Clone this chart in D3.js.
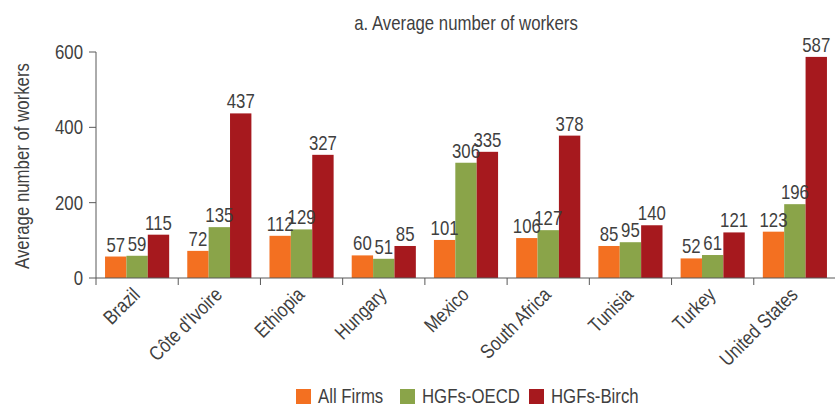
<!DOCTYPE html>
<html>
<head>
<meta charset="utf-8">
<script src="https://cdn.jsdelivr.net/npm/d3@7"></script>
<style>
  body { margin: 0; background: #fff; }
  text { font-family: "Liberation Sans", Arial, sans-serif; fill: #3f3f3f; font-size: 20px; }
</style>
</head>
<body>
<svg id="chart" width="835" height="405"></svg>
<script>
// data
var countries = ["Brazil", "Côte d'Ivoire", "Ethiopia", "Hungary", "Mexico", "South Africa", "Tunisia", "Turkey", "United States"];
var seriesNames = ["All Firms", "HGFs-OECD", "HGFs-Birch"];
var allFirms = [57, 72, 112, 60, 101, 106, 85, 52, 123];
var hgfOecd = [59, 135, 129, 51, 306, 127, 95, 61, 196];
var hgfBirch = [115, 437, 327, 85, 335, 378, 140, 121, 587];
var yTicks = [0, 200, 400, 600];
var colors = ["#f37021", "#8aa449", "#a6191e"];

var svg = d3.select("#chart");
var plotL = 96, plotR = 836, plotT = 52, plotB = 278;
var sx = 0.84; // squeeze text to look condensed

var x0 = d3.scaleBand().domain(countries).range([plotL, plotR]).paddingInner(0.22).paddingOuter(0.11);
var x1 = d3.scaleBand().domain(seriesNames).range([0, x0.bandwidth()]);
var y = d3.scaleLinear().domain([0, 600]).range([plotB, plotT]);

var rows = countries.map(function(c, i) {
    return {name: c, vals: [allFirms[i], hgfOecd[i], hgfBirch[i]]};
});

function put(x, yy, rot) {
    return "translate(" + x + "," + yy + ")" + (rot ? " rotate(" + rot + ")" : "") + " scale(" + sx + ",1)";
}

// title
svg.append("text").attr("transform", put(466, 30)).attr("text-anchor", "middle")
    .text("a. Average number of workers");

// y axis label
svg.append("text").attr("transform", put(29, 166, -90))
    .attr("text-anchor", "middle").text("Average number of workers");

// bars
var g = svg.selectAll("g.grp").data(rows).enter().append("g")
    .attr("class", "grp")
    .attr("transform", function(d) { return "translate(" + x0(d.name) + ",0)"; });

g.selectAll("rect").data(function(d) { return d.vals; }).enter().append("rect")
    .attr("x", function(d, i) { return x1(seriesNames[i]); })
    .attr("y", function(d) { return y(d); })
    .attr("width", x1.bandwidth())
    .attr("height", function(d) { return y(0) - y(d); })
    .attr("fill", function(d, i) { return colors[i]; });

g.selectAll("text.val").data(function(d) { return d.vals; }).enter().append("text")
    .attr("class", "val")
    .attr("transform", function(d, i) { return put(x1(seriesNames[i]) + x1.bandwidth() / 2, y(d) - 5); })
    .attr("text-anchor", "middle")
    .text(function(d) { return d; });

// y axis
svg.append("line").attr("x1", plotL).attr("x2", plotL).attr("y1", plotT).attr("y2", plotB)
    .attr("stroke", "#595959");
svg.selectAll("line.yt").data(yTicks).enter().append("line")
    .attr("class", "yt")
    .attr("x1", plotL - 7).attr("x2", plotL)
    .attr("y1", function(d) { return y(d); }).attr("y2", function(d) { return y(d); })
    .attr("stroke", "#595959");
svg.selectAll("text.ytl").data(yTicks).enter().append("text")
    .attr("class", "ytl")
    .attr("transform", function(d) { return put(plotL - 13, y(d) + 7); })
    .attr("text-anchor", "end")
    .text(function(d) { return d; });

// x axis, ticks between the groups
var step = x0.step();
var bounds = countries.map(function(c) { return x0(c) - step * 0.11; });
svg.append("line").attr("x1", plotL).attr("x2", plotR).attr("y1", plotB).attr("y2", plotB)
    .attr("stroke", "#595959");
svg.selectAll("line.xt").data(bounds).enter().append("line")
    .attr("class", "xt")
    .attr("x1", function(d) { return d; }).attr("x2", function(d) { return d; })
    .attr("y1", plotB).attr("y2", plotB + 7)
    .attr("stroke", "#595959");

svg.selectAll("text.cat").data(countries).enter().append("text")
    .attr("class", "cat")
    .attr("transform", function(d) { return put(x0(d) + x0.bandwidth() / 2 + 4, plotB + 18, -45); })
    .attr("text-anchor", "end")
    .text(function(d) { return d; });

// legend
var legX = [296, 400, 529];
var leg = svg.selectAll("g.leg").data(seriesNames).enter().append("g")
    .attr("class", "leg")
    .attr("transform", function(d, i) { return "translate(" + legX[i] + ",389)"; });
leg.append("rect").attr("width", 15).attr("height", 15)
    .attr("fill", function(d, i) { return colors[i]; });
leg.append("text").attr("transform", put(22, 14))
    .text(function(d) { return d; });
</script>
</body>
</html>
